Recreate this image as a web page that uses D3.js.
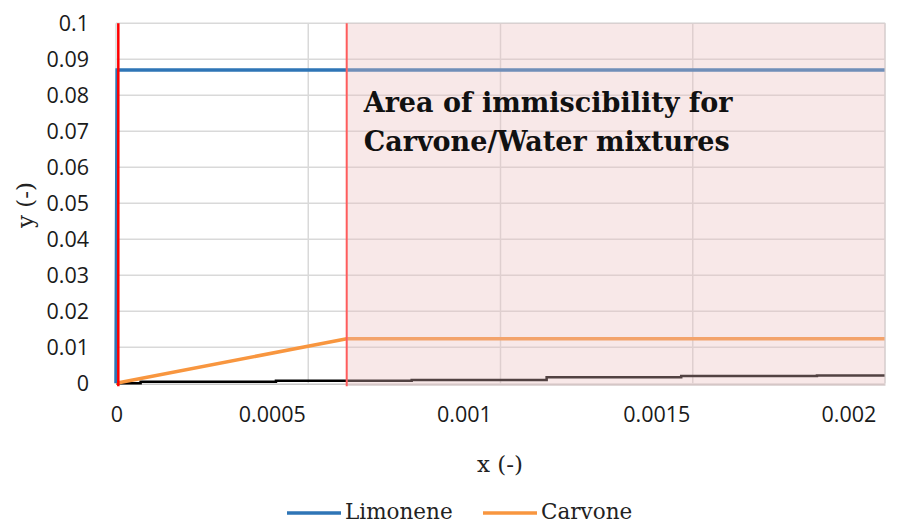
<!DOCTYPE html>
<html>
<head>
<meta charset="utf-8">
<script src="https://cdn.jsdelivr.net/npm/d3@7"></script>
<style>
  body { margin: 0; background: #fff; }
  svg { display: block; }
</style>
</head>
<body>
<svg id="chart" width="914" height="525"></svg>
<script>
// data
const xTicks = [0, 0.0005, 0.001, 0.0015, 0.002];
const yTicks = [0, 0.01, 0.02, 0.03, 0.04, 0.05, 0.06, 0.07, 0.08, 0.09, 0.1];
const xTickLabels = ["0", "0.0005", "0.001", "0.0015", "0.002"];
const yTickLabels = ["0", "0.01", "0.02", "0.03", "0.04", "0.05", "0.06", "0.07", "0.08", "0.09", "0.1"];

const limoneneX = [0, 0.000003, 0.002];
const limoneneY = [0, 0.087, 0.087];
const carvoneX = [0, 0.0006, 0.002];
const carvoneY = [0, 0.0124, 0.0124];
const waterX = [0, 0.000064, 0.000416, 0.000769, 0.00112, 0.00147, 0.001823, 0.002];
const waterY = [0, 0.0004, 0.0007, 0.0009, 0.0017, 0.002, 0.0022, 0.0022];

const boundaryLimonene = 0.000006;
const boundaryCarvone = 0.0006;
const legendNames = ["Limonene", "Carvone"];
const legendColors = ["#2e75b6", "#f8963f"];

const svg = d3.select("#chart");
const margin = { top: 23.3, right: 29, bottom: 141.7, left: 116 };
const width = 914 - margin.left - margin.right;
const height = 525 - margin.top - margin.bottom;

const x = d3.scaleLinear().domain([0, 0.002]).range([margin.left, margin.left + width]);
const y = d3.scaleLinear().domain([0, 0.1]).range([margin.top + height, margin.top]);

// gridlines
svg.append("g")
    .selectAll("line")
    .data(yTicks.slice(1))
    .join("line")
    .attr("x1", x(0)).attr("x2", x(0.002))
    .attr("y1", d => y(d)).attr("y2", d => y(d))
    .attr("stroke", "#d9d9d9").attr("stroke-width", 1.5);

svg.append("g")
    .selectAll("line")
    .data(xTicks)
    .join("line")
    .attr("x1", d => x(d)).attr("x2", d => x(d))
    .attr("y1", y(0)).attr("y2", y(0.1))
    .attr("stroke", "#d9d9d9").attr("stroke-width", 1.5);

// x axis baseline
svg.append("line")
    .attr("x1", x(0)).attr("x2", x(0.002))
    .attr("y1", y(0) + 1).attr("y2", y(0) + 1)
    .attr("stroke", "#c8c8c8").attr("stroke-width", 1.5);

// tick labels
svg.append("g")
    .selectAll("text")
    .data(yTicks)
    .join("text")
    .attr("x", 89)
    .attr("y", d => y(d))
    .attr("dy", "0.35em")
    .attr("text-anchor", "end")
    .attr("font-family", "Open Sans")
    .attr("font-size", 21.5)
    .attr("fill", "#1a1a1a")
    .text((d, i) => yTickLabels[i]);

svg.append("g")
    .selectAll("text")
    .data(xTicks)
    .join("text")
    .attr("x", d => d === 0 ? x(d) + 1 : x(d) - 36)
    .attr("y", 422)
    .attr("text-anchor", "middle")
    .attr("font-family", "Open Sans")
    .attr("font-size", 21.5)
    .attr("fill", "#1a1a1a")
    .text((d, i) => xTickLabels[i]);

// series
const line = d3.line().x(d => x(d[0])).y(d => y(d[1]));

svg.append("path")
    .datum(d3.zip(waterX, waterY))
    .attr("d", d3.line().x(d => x(d[0])).y(d => y(d[1])).curve(d3.curveStepAfter))
    .attr("fill", "none").attr("stroke", "#000").attr("stroke-width", 2.5);

svg.append("path")
    .datum(d3.zip(carvoneX, carvoneY))
    .attr("d", line)
    .attr("fill", "none").attr("stroke", legendColors[1]).attr("stroke-width", 3.5);

svg.append("path")
    .datum(d3.zip(limoneneX, limoneneY))
    .attr("d", line)
    .attr("fill", "none").attr("stroke", legendColors[0]).attr("stroke-width", 3.5);

// boundaries
svg.append("line")
    .attr("x1", x(boundaryLimonene)).attr("x2", x(boundaryLimonene))
    .attr("y1", y(0) + 3).attr("y2", y(0.1))
    .attr("stroke", "#ff0000").attr("stroke-width", 2.5);

// immiscibility area
svg.append("rect")
    .attr("x", x(boundaryCarvone))
    .attr("y", y(0.1))
    .attr("width", x(0.002) - x(boundaryCarvone))
    .attr("height", y(0) - y(0.1) + 2)
    .attr("fill", "rgb(235,190,190)")
    .attr("fill-opacity", 0.35)
    .attr("stroke", "#d9d0d0")
    .attr("stroke-width", 1);

svg.append("line")
    .attr("x1", x(boundaryCarvone)).attr("x2", x(boundaryCarvone))
    .attr("y1", y(0) + 3).attr("y2", y(0.1))
    .attr("stroke", "#ff5c5c").attr("stroke-width", 2);

svg.append("text")
    .attr("x", x(boundaryCarvone) + 17)
    .attr("y", y(0.0753))
    .attr("font-family", "DejaVu Serif")
    .attr("font-weight", "bold")
    .attr("font-size", 27)
    .attr("fill", "#111")
    .selectAll("tspan")
    .data(["Area of immiscibility for", "Carvone/Water mixtures"])
    .join("tspan")
    .attr("x", x(boundaryCarvone) + 17)
    .attr("dy", (d, i) => i === 0 ? 0 : 39)
    .text(d => d);

// axis titles
svg.append("text")
    .attr("x", 500).attr("y", 472)
    .attr("text-anchor", "middle")
    .attr("font-family", "DejaVu Serif")
    .attr("font-size", 23)
    .attr("fill", "#222")
    .text("x (-)");

svg.append("text")
    .attr("transform", "translate(33, 205) rotate(-90)")
    .attr("text-anchor", "middle")
    .attr("font-family", "DejaVu Serif")
    .attr("font-size", 23)
    .attr("fill", "#222")
    .text("y (-)");

// legend
const legend = svg.append("g")
    .selectAll("g")
    .data(legendNames)
    .join("g")
    .attr("transform", (d, i) => `translate(${[287, 483][i]}, 511)`);

legend.append("line")
    .attr("x1", 0).attr("x2", 54)
    .attr("y1", 2).attr("y2", 2)
    .attr("stroke", (d, i) => legendColors[i])
    .attr("stroke-width", 3.5);

legend.append("text")
    .attr("x", 58)
    .attr("dy", "0.35em")
    .attr("font-family", "DejaVu Serif")
    .attr("font-size", 21.5)
    .attr("fill", "#222")
    .text(d => d);
</script>
</body>
</html>
